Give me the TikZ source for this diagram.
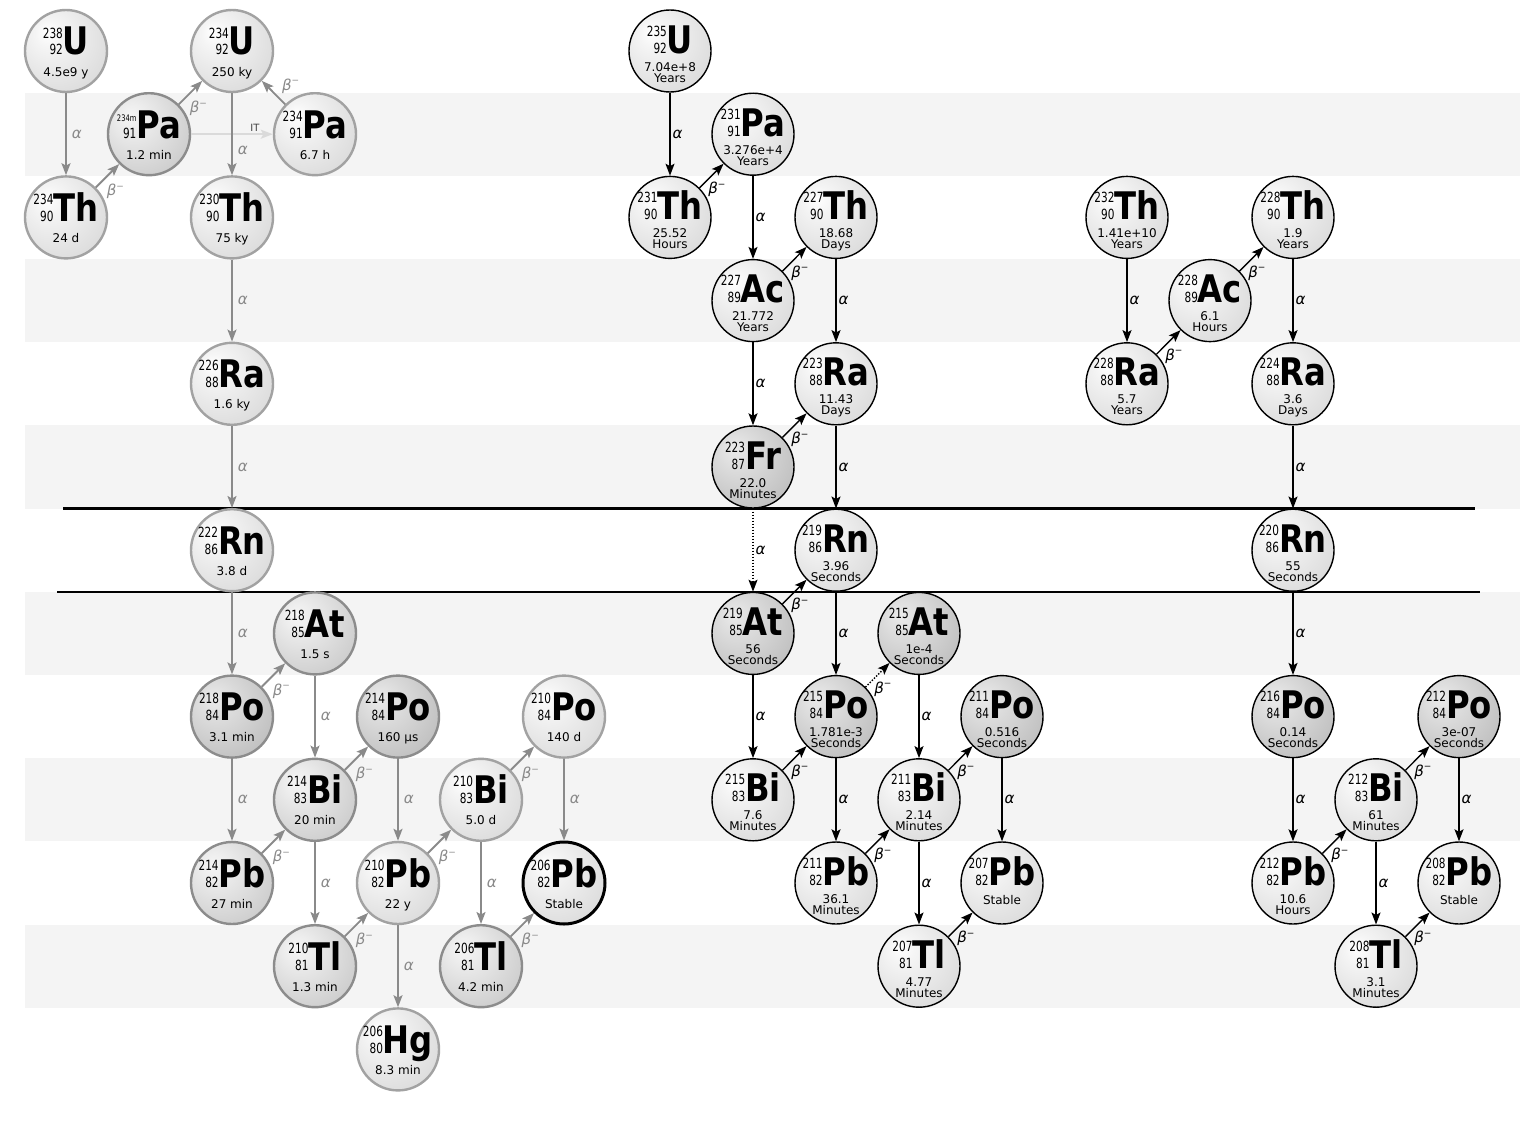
\documentclass[tikz,border=0pt]{standalone}
\usepackage{fontspec}
\setmainfont{DejaVu Sans}
\newfontfamily\numfam[FakeStretch=0.75]{DejaVu Sans}
\newfontfamily\symfam[FakeStretch=0.85]{DejaVu Sans}
\usetikzlibrary{arrows.meta}
\definecolor{bandc}{HTML}{F4F4F4}
\definecolor{lgrey}{HTML}{8A8A8A}
\definecolor{gborder}{HTML}{A2A2A2}
\definecolor{gborderd}{HTML}{8C8C8C}
\definecolor{itgrey}{HTML}{DADADA}
\pgfdeclareradialshading{balllight}{\pgfpoint{-12bp}{12bp}}{color(0bp)=(white); color(8bp)=(white!96!black); color(35bp)=(white!86!black); color(50bp)=(white!78!black); color(70bp)=(white!68!black)}
\pgfdeclareradialshading{ballmid}{\pgfpoint{-12bp}{12bp}}{color(0bp)=(white!96!black); color(8bp)=(white!93!black); color(35bp)=(white!80!black); color(50bp)=(white!71!black); color(70bp)=(white!60!black)}
\pgfdeclareradialshading{balldark}{\pgfpoint{-12bp}{12bp}}{color(0bp)=(white!92!black); color(8bp)=(white!88!black); color(35bp)=(white!75!black); color(50bp)=(white!65!black); color(70bp)=(white!54!black)}
\newcommand\isosym[3]{{\numfam\fontsize{14}{15}\selectfont\begin{tabular}[b]{@{}r@{}}#1\\[2pt]#2\end{tabular}}{\symfam\bfseries\fontsize{38}{40}\selectfont #3}}
\newcommand\Bm{β\raisebox{0.42em}{\fontsize{9}{9}\selectfont −}}
\newcommand\isoL[8]{%
 \node[#8] (#1) at (#2,{51+83.2*(#3)}) {};
 \node[anchor=base, inner sep=0pt] (#1-s) at (#2,{51+83.2*(#3)+4}) {\isosym{#4}{#5}{#6}};
 \node[anchor=base, inner sep=0pt, hl] (#1-h) at (#2,{51+83.2*(#3)+25}) {#7};
}
\newcommand\isoR[9]{%
 \node[#9] (#1) at (#2,{51+83.2*(#3)}) {};
 \node[anchor=base, inner sep=0pt] (#1-s) at (#2,{51+83.2*(#3)+2}) {\isosym{#4}{#5}{#6}};
 \node[anchor=base, inner sep=0pt, hl] (#1-h) at (#2,{51+83.2*(#3)+20}) {#7};
 \node[anchor=base, inner sep=0pt, hl] (#1-u) at (#2,{51+83.2*(#3)+31}) {#8};
}
\newcommand\isoS[7]{%
 \node[#7] (#1) at (#2,{51+83.2*(#3)}) {};
 \node[anchor=base, inner sep=0pt] (#1-s) at (#2,{51+83.2*(#3)+2}) {\isosym{#4}{#5}{#6}};
 \node[anchor=base, inner sep=0pt, hl] (#1-h) at (#2,{51+83.2*(#3)+21}) {Stable};
}
\tikzset{
 hl/.style={font=\fontsize{12}{12}\selectfont},
 isoBL/.style={circle, minimum size=82pt, inner sep=0pt, draw=black, line width=1.4pt, shading=balllight},
 isoBD/.style={isoBL, shading=balldark},
 isoGL/.style={isoBL, draw=gborder, line width=2.4pt},
 isoGM/.style={isoBL, draw=gborderd, line width=2.4pt, shading=ballmid},
 isoGD/.style={isoBL, draw=gborderd, line width=2.4pt, shading=balldark},
 isoGS/.style={isoBL, draw=black, line width=3pt},
 arr/.style={draw=black, line width=1.4pt, -{Stealth[length=12pt,width=9pt,inset=2.5pt]}},
 garr/.style={arr, draw=lgrey, line width=1.9pt},
 dotarr/.style={arr, dash pattern=on 1.4pt off 1.6pt},
 itarr/.style={arr, draw=itgrey, line width=1.6pt},
 al/.style={midway, anchor=west, inner sep=2pt, font=\fontsize{15}{15}\selectfont\itshape},
 gal/.style={al, inner sep=5pt, text=lgrey},
 bet/.style={pos=0.3, anchor=north west, inner sep=1pt, font=\fontsize{15}{15}\selectfont\itshape},
 gbet/.style={bet, inner sep=3pt, text=lgrey},
 gbetup/.style={gbet, anchor=south west},
}
\begin{document}
\begin{tikzpicture}[x=1pt,y=-1pt]
\useasboundingbox (0,0) rectangle (1533,1124);
% background bands
\foreach \r in {1,3,5,7,9,11}{
  \fill[bandc] (25,{51+83.2*\r-41.6}) rectangle (1520,{51+83.2*\r+41.6});
}
% separating lines
\draw[line width=2.4pt] (63,508.6) -- (1475,508.6);
\draw[line width=2.4pt] (57,591.8) -- (1480,591.8);

% ---------------- left chain (U-238) ----------------
\isoL{U238}{66}{0}{238}{92}{U}{4.5e9 y}{isoGL}
\isoL{Pa234m}{149}{1}{\fontsize{9}{9}\selectfont 234m}{91}{Pa}{1.2 min}{isoGM}
\isoL{U234}{232}{0}{234}{92}{U}{250 ky}{isoGL}
\isoL{Pa234}{315}{1}{234}{91}{Pa}{6.7 h}{isoGL}
\isoL{Th234}{66}{2}{234}{90}{Th}{24 d}{isoGL}
\isoL{Th230}{232}{2}{230}{90}{Th}{75 ky}{isoGL}
\isoL{Ra226}{232}{4}{226}{88}{Ra}{1.6 ky}{isoGL}
\isoL{Rn222}{232}{6}{222}{86}{Rn}{3.8 d}{isoGL}
\isoL{At218}{315}{7}{218}{85}{At}{1.5 s}{isoGM}
\isoL{Po218}{232}{8}{218}{84}{Po}{3.1 min}{isoGD}
\isoL{Po214}{398}{8}{214}{84}{Po}{160 µs}{isoGD}
\isoL{Po210}{564}{8}{210}{84}{Po}{140 d}{isoGL}
\isoL{Bi214}{315}{9}{214}{83}{Bi}{20 min}{isoGM}
\isoL{Bi210}{481}{9}{210}{83}{Bi}{5.0 d}{isoGL}
\isoL{Pb214}{232}{10}{214}{82}{Pb}{27 min}{isoGM}
\isoL{Pb210}{398}{10}{210}{82}{Pb}{22 y}{isoGL}
\isoL{Pb206}{564}{10}{206}{82}{Pb}{Stable}{isoGS}
\isoL{Tl210}{315}{11}{210}{81}{Tl}{1.3 min}{isoGM}
\isoL{Tl206}{481}{11}{206}{81}{Tl}{4.2 min}{isoGM}
\isoL{Hg206}{398}{12}{206}{80}{Hg}{8.3 min}{isoGL}

\draw[garr] (U238) -- node[gal]{α} (Th234);
\draw[garr] (Th234) -- node[gbet]{\Bm} (Pa234m);
\draw[garr] (Pa234m) -- node[gbet]{\Bm} (U234);
\draw[itarr] (Pa234m) -- node[pos=0.78, anchor=south, inner sep=2pt, font=\fontsize{10}{10}\selectfont, text=black!75] {IT} (Pa234);
\draw[garr] (Pa234) -- node[gbetup]{\Bm} (U234);
\draw[garr] (U234) -- node[gal, pos=0.7]{α} (Th230);
\draw[garr] (Th230) -- node[gal]{α} (Ra226);
\draw[garr] (Ra226) -- node[gal]{α} (Rn222);
\draw[garr] (Rn222) -- node[gal]{α} (Po218);
\draw[garr] (Po218) -- node[gbet]{\Bm} (At218);
\draw[garr] (At218) -- node[gal]{α} (Bi214);
\draw[garr] (Po218) -- node[gal]{α} (Pb214);
\draw[garr] (Pb214) -- node[gbet]{\Bm} (Bi214);
\draw[garr] (Bi214) -- node[gbet]{\Bm} (Po214);
\draw[garr] (Bi214) -- node[gal]{α} (Tl210);
\draw[garr] (Po214) -- node[gal]{α} (Pb210);
\draw[garr] (Tl210) -- node[gbet]{\Bm} (Pb210);
\draw[garr] (Pb210) -- node[gbet]{\Bm} (Bi210);
\draw[garr] (Pb210) -- node[gal]{α} (Hg206);
\draw[garr] (Bi210) -- node[gbet]{\Bm} (Po210);
\draw[garr] (Bi210) -- node[gal]{α} (Tl206);
\draw[garr] (Po210) -- node[gal]{α} (Pb206);
\draw[garr] (Tl206) -- node[gbet]{\Bm} (Pb206);

% ---------------- middle chain (U-235) ----------------
\isoR{U235}{670}{0}{235}{92}{U}{7.04e+8}{Years}{isoBL}
\isoR{Pa231}{753}{1}{231}{91}{Pa}{3.276e+4}{Years}{isoBL}
\isoR{Th231}{670}{2}{231}{90}{Th}{25.52}{Hours}{isoBL}
\isoR{Th227}{836}{2}{227}{90}{Th}{18.68}{Days}{isoBL}
\isoR{Ac227}{753}{3}{227}{89}{Ac}{21.772}{Years}{isoBL}
\isoR{Ra223}{836}{4}{223}{88}{Ra}{11.43}{Days}{isoBL}
\isoR{Fr223}{753}{5}{223}{87}{Fr}{22.0}{Minutes}{isoBD}
\isoR{Rn219}{836}{6}{219}{86}{Rn}{3.96}{Seconds}{isoBL}
\isoR{At219}{753}{7}{219}{85}{At}{56}{Seconds}{isoBD}
\isoR{At215}{919}{7}{215}{85}{At}{1e-4}{Seconds}{isoBD}
\isoR{Po215}{836}{8}{215}{84}{Po}{1.781e-3}{Seconds}{isoBD}
\isoR{Po211}{1002}{8}{211}{84}{Po}{0.516}{Seconds}{isoBD}
\isoR{Bi215}{753}{9}{215}{83}{Bi}{7.6}{Minutes}{isoBL}
\isoR{Bi211}{919}{9}{211}{83}{Bi}{2.14}{Minutes}{isoBL}
\isoR{Pb211}{836}{10}{211}{82}{Pb}{36.1}{Minutes}{isoBL}
\isoS{Pb207}{1002}{10}{207}{82}{Pb}{isoBL}
\isoR{Tl207}{919}{11}{207}{81}{Tl}{4.77}{Minutes}{isoBL}

\draw[arr] (U235) -- node[al]{α} (Th231);
\draw[arr] (Th231) -- node[bet]{\Bm} (Pa231);
\draw[arr] (Pa231) -- node[al]{α} (Ac227);
\draw[arr] (Ac227) -- node[bet]{\Bm} (Th227);
\draw[arr] (Th227) -- node[al]{α} (Ra223);
\draw[arr] (Ac227) -- node[al]{α} (Fr223);
\draw[arr] (Fr223) -- node[bet]{\Bm} (Ra223);
\draw[arr] (Ra223) -- node[al]{α} (Rn219);
\draw[dotarr] (Fr223) -- node[al]{α} (At219);
\draw[arr] (At219) -- node[bet]{\Bm} (Rn219);
\draw[arr] (Rn219) -- node[al]{α} (Po215);
\draw[dotarr] (Po215) -- node[bet]{\Bm} (At215);
\draw[arr] (At219) -- node[al]{α} (Bi215);
\draw[arr] (At215) -- node[al]{α} (Bi211);
\draw[arr] (Bi215) -- node[bet]{\Bm} (Po215);
\draw[arr] (Po215) -- node[al]{α} (Pb211);
\draw[arr] (Pb211) -- node[bet]{\Bm} (Bi211);
\draw[arr] (Bi211) -- node[bet]{\Bm} (Po211);
\draw[arr] (Po211) -- node[al]{α} (Pb207);
\draw[arr] (Bi211) -- node[al]{α} (Tl207);
\draw[arr] (Tl207) -- node[bet]{\Bm} (Pb207);

% ---------------- right chain (Th-232) ----------------
\isoR{Th232}{1127}{2}{232}{90}{Th}{1.41e+10}{Years}{isoBL}
\isoR{Ac228}{1210}{3}{228}{89}{Ac}{6.1}{Hours}{isoBL}
\isoR{Th228}{1293}{2}{228}{90}{Th}{1.9}{Years}{isoBL}
\isoR{Ra228}{1127}{4}{228}{88}{Ra}{5.7}{Years}{isoBL}
\isoR{Ra224}{1293}{4}{224}{88}{Ra}{3.6}{Days}{isoBL}
\isoR{Rn220}{1293}{6}{220}{86}{Rn}{55}{Seconds}{isoBL}
\isoR{Po216}{1293}{8}{216}{84}{Po}{0.14}{Seconds}{isoBD}
\isoR{Po212}{1459}{8}{212}{84}{Po}{3e-07}{Seconds}{isoBD}
\isoR{Bi212}{1376}{9}{212}{83}{Bi}{61}{Minutes}{isoBL}
\isoR{Pb212}{1293}{10}{212}{82}{Pb}{10.6}{Hours}{isoBL}
\isoS{Pb208}{1459}{10}{208}{82}{Pb}{isoBL}
\isoR{Tl208}{1376}{11}{208}{81}{Tl}{3.1}{Minutes}{isoBL}

\draw[arr] (Th232) -- node[al]{α} (Ra228);
\draw[arr] (Ra228) -- node[bet]{\Bm} (Ac228);
\draw[arr] (Ac228) -- node[bet]{\Bm} (Th228);
\draw[arr] (Th228) -- node[al]{α} (Ra224);
\draw[arr] (Ra224) -- node[al]{α} (Rn220);
\draw[arr] (Rn220) -- node[al]{α} (Po216);
\draw[arr] (Po216) -- node[al]{α} (Pb212);
\draw[arr] (Pb212) -- node[bet]{\Bm} (Bi212);
\draw[arr] (Bi212) -- node[bet]{\Bm} (Po212);
\draw[arr] (Po212) -- node[al]{α} (Pb208);
\draw[arr] (Bi212) -- node[al]{α} (Tl208);
\draw[arr] (Tl208) -- node[bet]{\Bm} (Pb208);
\end{tikzpicture}
\end{document}
